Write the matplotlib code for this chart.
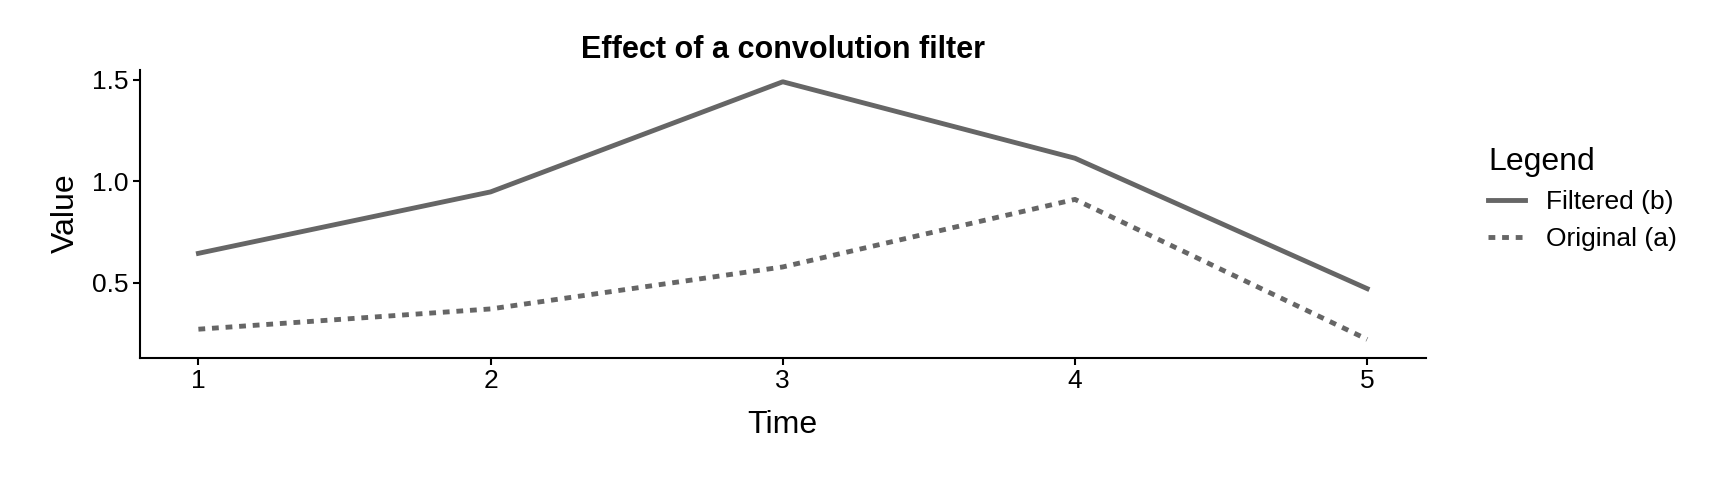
import matplotlib.pyplot as plt

time = [1, 2, 3, 4, 5]
filtered_b = [0.644, 0.947, 1.49, 1.113, 0.47]
original_a = [0.27, 0.37, 0.577, 0.91, 0.22]

plt.rcParams['font.family'] = ['Liberation Sans', 'DejaVu Sans']

fig = plt.figure(figsize=(17.28, 4.8), dpi=100)
ax = fig.add_axes([0.081, 0.255, 0.744, 0.60])
ax.plot(time, filtered_b, color="#666666", lw=3.5, label="Filtered (b)")
ax.plot(time, original_a, color="#666666", lw=3.5, ls=(0, (1.4, 1.4)), label="Original (a)")

ax.set_xlim(0.8, 5.2)
ax.set_ylim(0.13, 1.55)
ax.set_xticks(time)
ax.set_yticks([0.5, 1.0, 1.5])
ax.tick_params(labelsize=19, length=5, width=1.5)
for s in ["top", "right"]:
    ax.spines[s].set_visible(False)
for s in ["left", "bottom"]:
    ax.spines[s].set_linewidth(1.5)
ax.set_xlabel("Time", fontsize=23, labelpad=12)
ax.set_ylabel("Value", fontsize=23, labelpad=8)
ax.set_title("Effect of a convolution filter", fontsize=22, fontweight="bold", pad=8)

leg = ax.legend(title="Legend", loc="center left", bbox_to_anchor=(1.03, 0.55),
                frameon=False, fontsize=19, title_fontsize=23, handlelength=1.4,
                labelspacing=0.5)
leg._legend_box.align = "left"

fig.savefig("out.png", dpi=100)
